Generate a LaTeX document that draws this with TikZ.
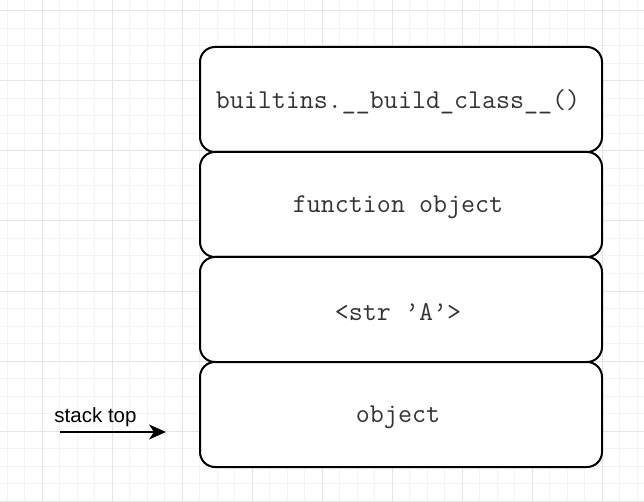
\documentclass[tikz,border=0pt]{standalone}
\usepackage{fontspec}
\newfontfamily\labelfont{Liberation Sans}
\usetikzlibrary{arrows.meta}
\definecolor{gridmajor}{HTML}{E4E4E4}
\definecolor{gridminor}{HTML}{F3F3F3}
\definecolor{txt}{HTML}{333333}
\tikzset{
  stackbox/.style={draw=black, line width=2pt, rounded corners=15pt, fill=white},
  boxtext/.style={font=\fontsize{27.2pt}{31pt}\selectfont\ttfamily, text=txt, inner sep=0pt},
  toplabel/.style={font=\fontsize{20.5pt}{24pt}\selectfont\labelfont, text=black, inner sep=0pt, anchor=base},
  pointer/.style={line width=2pt, -{Stealth[length=17pt,width=15pt,inset=5pt]}}
}
\begin{document}
\begin{tikzpicture}[x=1pt,y=-1pt]
\useasboundingbox (0,0) rectangle (644,502);
\fill[white] (0,0) rectangle (644,502);
% minor grid
\foreach \i in {0,...,37} {
  \draw[gridminor, line width=1pt] ({7+17.5*\i},0) -- ({7+17.5*\i},502);
}
\foreach \i in {-1,...,28} {
  \draw[gridminor, line width=1pt] (0,{11+17.5*\i}) -- (644,{11+17.5*\i});
}
% major grid
\foreach \i in {0,...,9} {
  \draw[gridmajor, line width=1pt] ({42+70*\i},0) -- ({42+70*\i},502);
}
\foreach \i in {0,...,7} {
  \draw[gridmajor, line width=1pt] (0,{11+70*\i}) -- (644,{11+70*\i});
}
% stack boxes
\draw[stackbox] (200,47) rectangle (602,152);
\draw[stackbox] (200,152) rectangle (602,257);
\draw[stackbox] (200,257) rectangle (602,362);
\draw[stackbox] (200,362) rectangle (602,467);
\node[boxtext] (b1) at (398,102) {builtins.\_\_build\_class\_\_()};
\node[boxtext] (b2) at (398,207) {function object};
\node[boxtext] (b3) at (398,312) {<str ’A’>};
\node[boxtext] (b4) at (398,417) {object};
% stack top pointer
\node[toplabel] (lbl) at (95.5,422) {stack top};
\coordinate (ps) at (60,432);
\coordinate (pe) at (166,432);
\draw[pointer] (ps) -- (pe);
\end{tikzpicture}
\end{document}
